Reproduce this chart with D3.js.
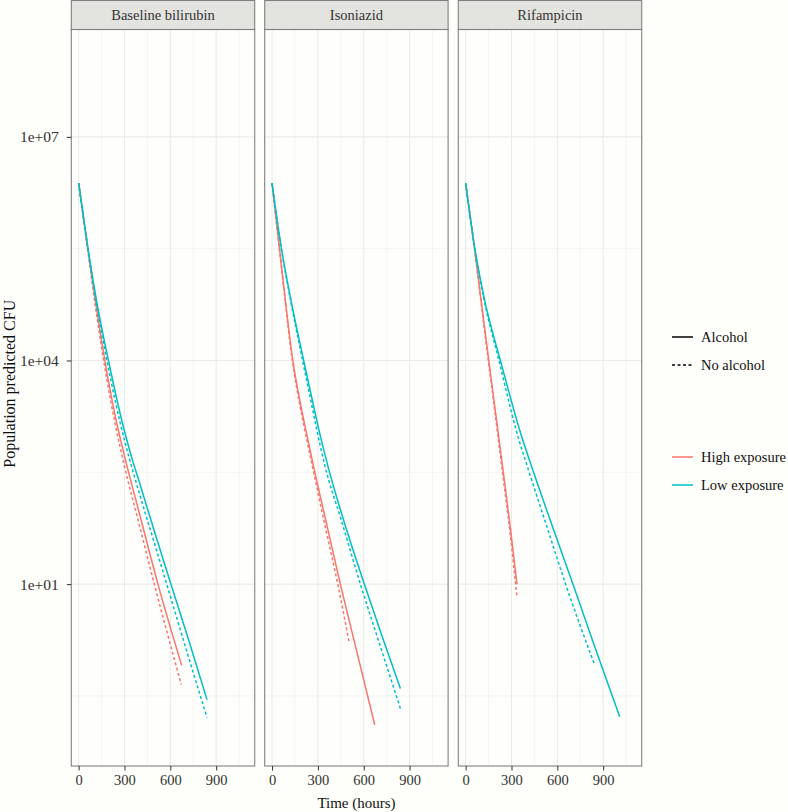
<!DOCTYPE html>
<html><head><meta charset="utf-8">
<script src="https://cdn.jsdelivr.net/npm/d3@7"></script>
<style>body{margin:0;background:#fefefa}svg{display:block}</style>
</head><body><svg id="c" width="788" height="812"></svg>
<script>
// ---- data: time (hours) and log10 of population predicted CFU ----
const facets = ["Baseline bilirubin", "Isoniazid", "Rifampicin"];
const exposures = ["High exposure", "Low exposure"];
const alcoholLevels = ["Alcohol", "No alcohol"];
const xTicks = [0, 300, 600, 900];
const yTicks = [1e1, 1e4, 1e7];
const yTickLabels = ["1e+01", "1e+04", "1e+07"];

// Baseline bilirubin
const bbHighAlcT = [0, 60, 120, 180, 240, 300, 400, 519, 674];
const bbHighAlcL = [6.38, 5.50, 4.66, 3.90, 3.25, 2.72, 1.93, 1.00, -0.09];
const bbHighNoT  = [0, 60, 120, 180, 240, 300, 400, 495, 672];
const bbHighNoL  = [6.38, 5.47, 4.58, 3.80, 3.14, 2.58, 1.77, 1.00, -0.35];
const bbLowAlcT  = [0, 60, 120, 195, 250, 300, 350, 400, 500, 604, 720, 840];
const bbLowAlcL  = [6.38, 5.52, 4.77, 4.00, 3.48, 3.05, 2.68, 2.35, 1.68, 1.00, 0.25, -0.55];
const bbLowNoT   = [0, 60, 120, 185, 240, 300, 400, 500, 576, 700, 840];
const bbLowNoL   = [6.38, 5.51, 4.72, 4.00, 3.45, 2.93, 2.20, 1.52, 1.00, 0.15, -0.79];
// Isoniazid
const inhHighAlcT = [0, 50, 100, 125, 150, 180, 224, 280, 350, 447, 560, 672];
const inhHighAlcL = [6.38, 5.48, 4.58, 4.16, 3.82, 3.48, 3.04, 2.50, 1.87, 1.00, 0.05, -0.89];
const inhHighNoT  = [0, 49, 100, 122, 148, 178, 213, 262, 350, 432, 504];
const inhHighNoL  = [6.38, 5.48, 4.55, 4.16, 3.80, 3.44, 3.08, 2.60, 1.75, 0.98, 0.22];
const inhLowAlcT  = [0, 60, 120, 207, 260, 301, 366, 450, 604, 720, 840];
const inhLowAlcL  = [6.38, 5.52, 4.85, 4.00, 3.50, 3.12, 2.58, 1.98, 1.00, 0.30, -0.40];
const inhLowNoT   = [0, 60, 120, 200, 250, 288, 344, 450, 578, 700, 840];
const inhLowNoL   = [6.38, 5.51, 4.82, 4.00, 3.50, 3.12, 2.60, 1.88, 1.00, 0.22, -0.67];
// Rifampicin
const rifHighAlcT = [0, 60, 120, 180, 240, 290, 336];
const rifHighAlcL = [6.38, 5.48, 4.50, 3.55, 2.60, 1.80, 1.00];
const rifHighNoT  = [0, 60, 120, 180, 240, 290, 336];
const rifHighNoL  = [6.38, 5.47, 4.46, 3.50, 2.52, 1.70, 0.83];
const rifLowAlcT  = [0, 60, 120, 227, 300, 353, 448, 560, 702, 850, 1008];
const rifLowAlcL  = [6.38, 5.50, 4.85, 4.00, 3.45, 3.07, 2.48, 1.82, 1.00, 0.13, -0.78];
const rifLowNoT   = [0, 60, 120, 218, 280, 327, 416, 530, 654, 750, 840];
const rifLowNoL   = [6.38, 5.50, 4.82, 4.00, 3.47, 3.09, 2.50, 1.78, 1.00, 0.44, -0.06];

const colors = {"High exposure": "#F8766D", "Low exposure": "#00BFC4"};

const series = [
  {facet: 0, exp: "High exposure", alc: "Alcohol", t: bbHighAlcT, l: bbHighAlcL},
  {facet: 0, exp: "High exposure", alc: "No alcohol", t: bbHighNoT, l: bbHighNoL},
  {facet: 0, exp: "Low exposure", alc: "Alcohol", t: bbLowAlcT, l: bbLowAlcL},
  {facet: 0, exp: "Low exposure", alc: "No alcohol", t: bbLowNoT, l: bbLowNoL},
  {facet: 1, exp: "High exposure", alc: "Alcohol", t: inhHighAlcT, l: inhHighAlcL},
  {facet: 1, exp: "High exposure", alc: "No alcohol", t: inhHighNoT, l: inhHighNoL},
  {facet: 1, exp: "Low exposure", alc: "Alcohol", t: inhLowAlcT, l: inhLowAlcL},
  {facet: 1, exp: "Low exposure", alc: "No alcohol", t: inhLowNoT, l: inhLowNoL},
  {facet: 2, exp: "High exposure", alc: "Alcohol", t: rifHighAlcT, l: rifHighAlcL},
  {facet: 2, exp: "High exposure", alc: "No alcohol", t: rifHighNoT, l: rifHighNoL},
  {facet: 2, exp: "Low exposure", alc: "Alcohol", t: rifLowAlcT, l: rifLowAlcL},
  {facet: 2, exp: "Low exposure", alc: "No alcohol", t: rifLowNoT, l: rifLowNoL}
];

// ---- layout ----
const font = "'Liberation Serif', 'DejaVu Serif', serif";
const panelLefts = [71.3, 264.7, 458.3];
const panelW = 183.4;
const stripTop = 0.5, panelTop = 29.5, panelBottom = 766;
const panelH = panelBottom - panelTop;

const x = d3.scaleLinear().domain([-48, 1152]).range([0, panelW]);
const y = d3.scaleLog().domain([Math.pow(10, -1.44), Math.pow(10, 8.44)]).range([panelH, 0]);

const svg = d3.select("#c");
svg.append("rect").attr("width", 788).attr("height", 812).attr("fill", "#fefefa");

const line = d3.line().x(d => x(d[0])).y(d => y(d[1])).curve(d3.curveMonotoneX);

const xMinor = [150, 450, 750, 1050];
const yMinor = [Math.pow(10, -0.5), Math.pow(10, 2.5), Math.pow(10, 5.5)];

facets.forEach((name, i) => {
  const g = svg.append("g").attr("transform", `translate(${panelLefts[i]},${panelTop})`);
  g.append("rect").attr("width", panelW).attr("height", panelH).attr("fill", "#fefefc");
  g.selectAll(".vx").data(xMinor).join("line")
    .attr("x1", d => x(d)).attr("x2", d => x(d)).attr("y1", 0).attr("y2", panelH)
    .attr("stroke", "#f3f3f0").attr("stroke-width", 0.8);
  g.selectAll(".hy").data(yMinor).join("line")
    .attr("y1", d => y(d)).attr("y2", d => y(d)).attr("x1", 0).attr("x2", panelW)
    .attr("stroke", "#f3f3f0").attr("stroke-width", 0.8);
  g.selectAll(".vX").data(xTicks).join("line")
    .attr("x1", d => x(d)).attr("x2", d => x(d)).attr("y1", 0).attr("y2", panelH)
    .attr("stroke", "#ebebe8").attr("stroke-width", 1.1);
  g.selectAll(".hY").data(yTicks).join("line")
    .attr("y1", d => y(d)).attr("y2", d => y(d)).attr("x1", 0).attr("x2", panelW)
    .attr("stroke", "#ebebe8").attr("stroke-width", 1.1);

  series.filter(s => s.facet === i).forEach(s => {
    const pts = s.t.map((t, k) => [t, Math.pow(10, s.l[k])]);
    g.append("path").datum(pts).attr("d", line)
      .attr("fill", "none").attr("stroke", colors[s.exp]).attr("stroke-width", 1.5)
      .attr("stroke-dasharray", s.alc === "No alcohol" ? "3,2.5" : null);
  });

  g.append("rect").attr("width", panelW).attr("height", panelH)
    .attr("fill", "none").attr("stroke", "#808080").attr("stroke-width", 1.1);

  const xa = svg.append("g").attr("transform", `translate(${panelLefts[i]},${panelBottom})`)
    .call(d3.axisBottom(x).tickValues(xTicks).tickSize(4.5).tickPadding(4).tickFormat(d3.format("d")));
  xa.select(".domain").remove();
  xa.selectAll("line").attr("stroke", "#333");
  xa.selectAll("text").attr("font-family", font).attr("font-size", 14.5).attr("fill", "#333");

  const sg = svg.append("g").attr("transform", `translate(${panelLefts[i]},${stripTop})`);
  sg.append("rect").attr("width", panelW).attr("height", panelTop - stripTop)
    .attr("fill", "#e3e3e0").attr("stroke", "#808080").attr("stroke-width", 1.1);
  sg.append("text").attr("x", panelW / 2).attr("y", (panelTop - stripTop) / 2 + 5)
    .attr("text-anchor", "middle").attr("font-family", font).attr("font-size", 14.5)
    .attr("fill", "#333").text(name);
});

const ya = svg.append("g").attr("transform", `translate(${panelLefts[0]},${panelTop})`)
  .call(d3.axisLeft(y).tickValues(yTicks).tickSize(4.5).tickPadding(8)
    .tickFormat((d, k) => yTickLabels[k]));
ya.select(".domain").remove();
ya.selectAll("line").attr("stroke", "#333");
ya.selectAll("text").attr("font-family", font).attr("font-size", 15.5).attr("fill", "#333");

svg.append("text").attr("x", (panelLefts[0] + panelLefts[2] + panelW) / 2).attr("y", 808)
  .attr("text-anchor", "middle").attr("font-family", font).attr("font-size", 15)
  .attr("fill", "#111").text("Time (hours)");
svg.append("text").attr("transform", `translate(15,${(panelTop + panelBottom) / 2 - 14}) rotate(-90)`)
  .attr("text-anchor", "middle").attr("font-family", font).attr("font-size", 16)
  .attr("fill", "#111").text("Population predicted CFU");

const leg = svg.append("g").attr("font-family", font).attr("font-size", 14.5).attr("fill", "#111");
alcoholLevels.forEach((a, k) => {
  const yy = 337 + k * 28;
  leg.append("line").attr("x1", 672).attr("x2", 693).attr("y1", yy).attr("y2", yy)
    .attr("stroke", "#000").attr("stroke-width", 1.5)
    .attr("stroke-dasharray", a === "No alcohol" ? "3,2.5" : null);
  leg.append("text").attr("x", 701).attr("y", yy + 5).text(a);
});
exposures.forEach((e, k) => {
  const yy = 457 + k * 28;
  leg.append("line").attr("x1", 672).attr("x2", 693).attr("y1", yy).attr("y2", yy)
    .attr("stroke", colors[e]).attr("stroke-width", 1.5);
  leg.append("text").attr("x", 701).attr("y", yy + 5).text(e);
});
</script></body></html>
